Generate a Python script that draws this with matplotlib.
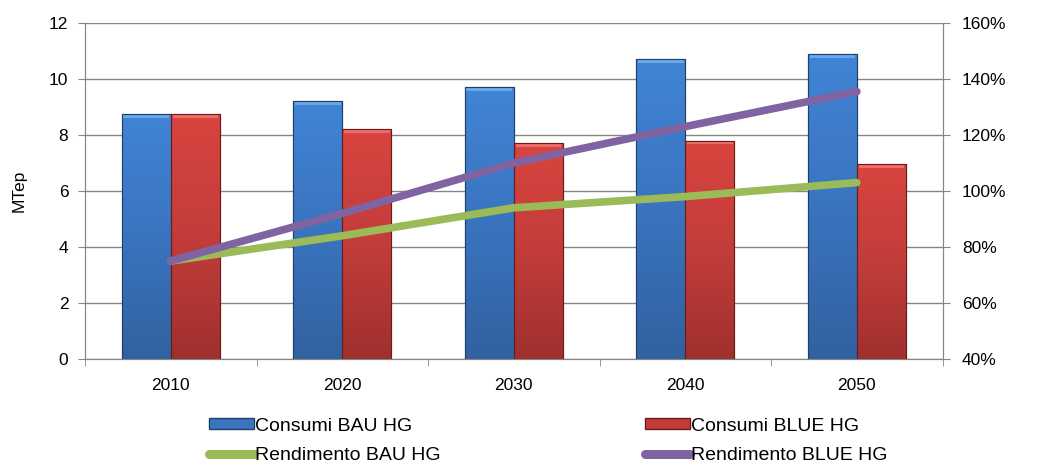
import numpy as np
import matplotlib
matplotlib.use("Agg")
import matplotlib.pyplot as plt
from matplotlib.colors import LinearSegmentedColormap
from matplotlib.lines import Line2D
from matplotlib.patches import Patch

years = ["2010", "2020", "2030", "2040", "2050"]
consumi_bau = [8.75, 9.2, 9.7, 10.7, 10.9]
consumi_blue = [8.75, 8.2, 7.7, 7.8, 6.95]
rend_bau = [75, 84, 94, 98, 103]
rend_blue = [75, 92, 110, 123, 135.5]

plt.rcParams['font.family'] = ['Liberation Sans', 'DejaVu Sans']

fig = plt.figure(figsize=(10.37, 4.74), dpi=100)
ax = fig.add_axes([0.082, 0.2426, 0.827, 0.709])
ax2 = ax.twinx()

x = np.arange(len(years))
w = 0.286

blue_cmap = LinearSegmentedColormap.from_list("b", ["#3261a0", "#3a74bf", "#4184d5"])
red_cmap = LinearSegmentedColormap.from_list("r", ["#9f302e", "#c23d3a", "#d9443f"])

bars_bau = ax.bar(x - w / 2, consumi_bau, w, color="#3a74bf", edgecolor="#1f3f6a", linewidth=0.8, zorder=2)
bars_blue = ax.bar(x + w / 2, consumi_blue, w, color="#c23d3a", edgecolor="#6e1a18", linewidth=0.8, zorder=2)

# vertical gradient + light top bevel on each bar
grad = np.linspace(0, 1, 256).reshape(-1, 1)
for bars, cmap, hl in [(bars_bau, blue_cmap, "#6aa8ec"), (bars_blue, red_cmap, "#ef6b66")]:
    for b in bars:
        x0, y0 = b.get_x(), b.get_y()
        bw, bh = b.get_width(), b.get_height()
        im = ax.imshow(grad, cmap=cmap, aspect="auto", origin="lower",
                       extent=[x0, x0 + bw, y0, y0 + bh], zorder=2.5)
        im.set_clip_path(b)
        ax.add_patch(plt.Rectangle((x0 + 0.01, y0 + bh - 0.14), bw - 0.02, 0.12,
                                   facecolor=hl, edgecolor="none", zorder=2.55))
        ax.add_patch(plt.Rectangle((x0, y0), bw, bh, fill=False,
                                   edgecolor=b.get_edgecolor(), linewidth=0.8, zorder=2.6))

ax.set_xlim(-0.5, len(years) - 0.5)
ax.set_ylim(0, 12)
ax.set_yticks(range(0, 13, 2))
ax.set_xticks(x)
ax.set_xticklabels(years)
ax.set_xticks(np.arange(-0.5, len(years), 1), minor=True)
ax.tick_params(axis="x", which="major", length=0, pad=14, labelsize=12.5)
ax.tick_params(axis="x", which="minor", length=5, color="#868686", direction="out")
ax.tick_params(axis="y", length=5, color="#868686", labelsize=12.5, pad=7)
ax.grid(axis="y", color="#868686", linewidth=1, zorder=0)
ax.set_axisbelow(True)
ax.set_ylabel("MTep", fontsize=12.5, labelpad=16)

ax2.plot(x, rend_bau, color="#9bbb59", linewidth=5.5, solid_capstyle="round", zorder=3)
ax2.plot(x, rend_blue, color="#8064a2", linewidth=5.5, solid_capstyle="round", zorder=3)
ax2.set_ylim(40, 160)
ax2.set_yticks(range(40, 161, 20))
ax2.set_yticklabels([f"{v}%" for v in range(40, 161, 20)])
ax2.tick_params(axis="y", length=5, color="#868686", labelsize=12.5, pad=9)

for a in (ax, ax2):
    a.spines["top"].set_visible(False)
    for s in ("left", "right", "bottom"):
        a.spines[s].set_color("#868686")

handles = [
    Patch(facecolor="#3a74bf", edgecolor="#1f3f6a"),
    Line2D([], [], color="#9bbb59", linewidth=6.5, solid_capstyle="round"),
    Patch(facecolor="#c23d3a", edgecolor="#6e1a18"),
    Line2D([], [], color="#8064a2", linewidth=6.5, solid_capstyle="round"),
]
labels = ["Consumi BAU HG", "Rendimento BAU HG", "Consumi BLUE HG", "Rendimento BLUE HG"]
fig.legend(handles, labels, ncol=2, loc="center", bbox_to_anchor=(0.529, 0.07),
           frameon=False, fontsize=14, handlelength=2.3, handleheight=0.55,
           handletextpad=0.08, columnspacing=10.5, labelspacing=0.65, borderpad=0)

fig.savefig("out.png", dpi=100)
